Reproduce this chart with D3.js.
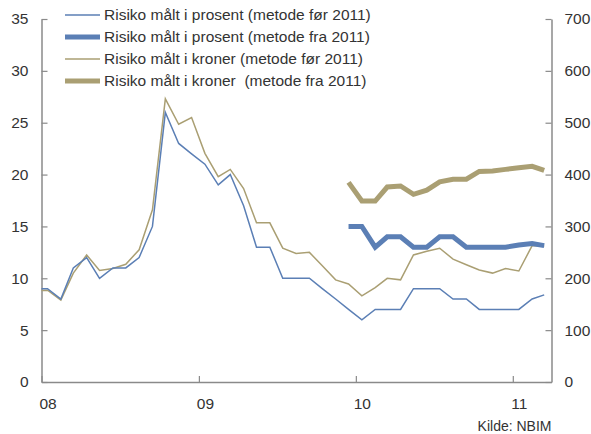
<!DOCTYPE html>
<html>
<head>
<meta charset="utf-8">
<script src="https://cdn.jsdelivr.net/npm/d3@7"></script>
<style>
  body { margin: 0; background: #fff; }
  svg text { font-family: "Liberation Sans", Arial, sans-serif; fill: #333; }
</style>
</head>
<body>
<div id="chart"></div>
<script>
// monthly observations, Dec 2007 - Mar 2011
const months = [
  "2007-12",
  "2008-01", "2008-02", "2008-03", "2008-04", "2008-05", "2008-06",
  "2008-07", "2008-08", "2008-09", "2008-10", "2008-11", "2008-12",
  "2009-01", "2009-02", "2009-03", "2009-04", "2009-05", "2009-06",
  "2009-07", "2009-08", "2009-09", "2009-10", "2009-11", "2009-12",
  "2010-01", "2010-02", "2010-03", "2010-04", "2010-05", "2010-06",
  "2010-07", "2010-08", "2010-09", "2010-10", "2010-11", "2010-12",
  "2011-01", "2011-02", "2011-03"
];

// percent (left axis)
const prosentFor = [
  9,
  9, 8, 11, 12, 10, 11, 11, 12, 15, 26, 23, 22,
  21, 19, 20, 17, 13, 13, 10, 10, 10, 9, 8, 7,
  6, 7, 7, 7, 9, 9, 9, 8, 8, 7, 7, 7,
  7, 8, 8.4
];
const prosentFra = [
  null,
  null, null, null, null, null, null, null, null, null, null, null, null,
  null, null, null, null, null, null, null, null, null, null, null, 15,
  15, 13, 14, 14, 13, 13, 14, 14, 13, 13, 13, 13,
  13.2, 13.35, 13.15
];

// kroner, bn (right axis)
const kronerFor = [
  176,
  177, 158, 210, 245, 215, 219, 227, 255, 332, 546, 497, 510,
  441, 396, 410, 373, 307, 307, 258, 248, 250, 224, 197, 189,
  166, 182, 200, 197, 245, 252, 258, 237, 226, 216, 210, 219,
  214, 263, 262
];
const kronerFra = [
  null,
  null, null, null, null, null, null, null, null, null, null, null, null,
  null, null, null, null, null, null, null, null, null, null, null, 385,
  349, 349, 376, 378, 362, 370, 386, 391, 391, 406, 407, 410,
  413, 416, 408
];

const leftTicks = [0, 5, 10, 15, 20, 25, 30, 35];
const rightTicks = [0, 100, 200, 300, 400, 500, 600, 700];
const legendLabels = [
  "Risiko målt i prosent (metode før 2011)",
  "Risiko målt i prosent (metode fra 2011)",
  "Risiko målt i kroner (metode før 2011)",
  "Risiko målt i kroner  (metode fra 2011)"
];
const source = "Kilde: NBIM";

const blue = "#5b7fb5";
const tan = "#aa9f73";
const axisColor = "#8a8a8a";

const width = 591, height = 434;
const margin = { top: 19, right: 39.5, bottom: 52, left: 41.5 };

const svg = d3.select("#chart").append("svg")
  .attr("width", width)
  .attr("height", height);

const parse = d3.timeParse("%Y-%m");
const dates = months.map(m => d3.timeDay.offset(parse(m), 14));

const x = d3.scaleTime()
  .domain([new Date(2008, 0, 1), new Date(2011, 3, 1)])
  .range([margin.left, width - margin.right]);
const yL = d3.scaleLinear().domain([0, 35]).range([height - margin.bottom, margin.top]);
const yR = d3.scaleLinear().domain([0, 700]).range([height - margin.bottom, margin.top]);

svg.append("clipPath").attr("id", "plot")
  .append("rect")
  .attr("x", margin.left).attr("y", 0)
  .attr("width", width - margin.left - margin.right)
  .attr("height", height);

// axes
const left = svg.append("g")
  .attr("transform", `translate(${margin.left},0)`)
  .call(d3.axisLeft(yL).tickValues(leftTicks).tickSizeInner(-6).tickSizeOuter(0).tickPadding(13));
const right = svg.append("g")
  .attr("transform", `translate(${width - margin.right},0)`)
  .call(d3.axisRight(yR).tickValues(rightTicks).tickSizeInner(-6).tickSizeOuter(0).tickPadding(13));
const bottom = svg.append("g")
  .attr("transform", `translate(0,${height - margin.bottom})`)
  .call(d3.axisBottom(x).ticks(d3.timeYear.every(1)).tickFormat(d3.timeFormat("%y"))
    .tickSizeInner(-6).tickSizeOuter(0).tickPadding(16));

[left, right, bottom].forEach(g => {
  g.select(".domain").attr("stroke", axisColor).attr("stroke-width", 1.5);
  g.selectAll(".tick line").attr("stroke", axisColor).attr("stroke-width", 1.2);
  g.selectAll("text").attr("font-size", 15.5).attr("fill", "#333")
    .style("font-family", '"Liberation Sans", Arial, sans-serif');
});
bottom.selectAll("text").attr("dx", 6);

// lines
const plot = svg.append("g").attr("clip-path", "url(#plot)");

function drawLine(values, scale, color, w) {
  const line = d3.line()
    .defined(d => d != null)
    .x((d, i) => x(dates[i]))
    .y(d => scale(d));
  plot.append("path")
    .datum(values)
    .attr("fill", "none")
    .attr("stroke", color)
    .attr("stroke-width", w)
    .attr("stroke-linejoin", "miter")
    .attr("d", line);
}

drawLine(kronerFor, yR, tan, 1.5);
drawLine(prosentFor, yL, blue, 1.5);
drawLine(kronerFra, yR, tan, 5);
drawLine(prosentFra, yL, blue, 5);

// legend
const legendStyle = [[blue, 1.5], [blue, 5], [tan, 1.5], [tan, 5]];
const legend = svg.append("g");
legendLabels.forEach((label, i) => {
  const yy = 15 + i * 22;
  legend.append("line")
    .attr("x1", 65).attr("x2", 100)
    .attr("y1", yy).attr("y2", yy)
    .attr("stroke", legendStyle[i][0])
    .attr("stroke-width", legendStyle[i][1]);
  legend.append("text")
    .attr("x", 104).attr("y", yy)
    .attr("dy", "0.35em")
    .attr("font-size", 15.5)
    .style("white-space", "pre")
    .text(label);
});

svg.append("text")
  .attr("x", width - margin.right)
  .attr("y", 431)
  .attr("text-anchor", "end")
  .attr("font-size", 14)
  .text(source);
</script>
</body>
</html>
